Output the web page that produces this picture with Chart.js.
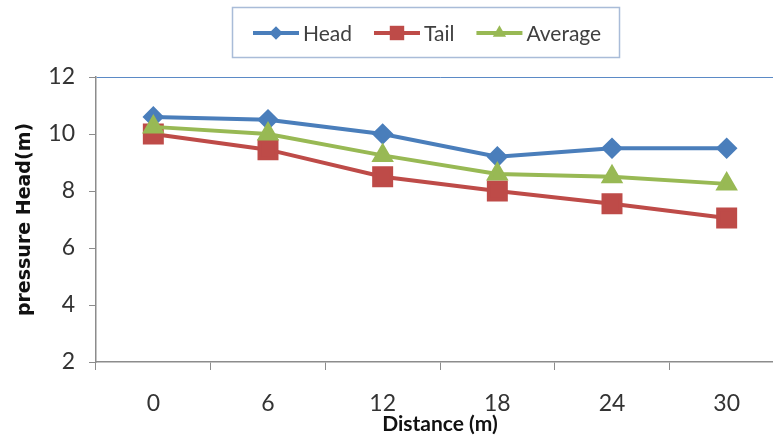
<!DOCTYPE html>
<html>
<head>
<meta charset="utf-8">
<script src="https://cdn.jsdelivr.net/npm/chart.js@4/dist/chart.umd.min.js"></script>
<style>
  html, body { margin: 0; padding: 0; background: #fff; overflow: hidden; }
  #wrap { width: 773px; height: 438px; overflow: hidden; }
</style>
</head>
<body>
<div id="wrap"><canvas id="canvas" width="800" height="438"></canvas></div>
<script>
var distance = ['0', '6', '12', '18', '24', '30'];
var head = [10.6, 10.5, 10.0, 9.2, 9.5, 9.5];
var tail = [10.0, 9.45, 8.5, 8.0, 7.55, 7.05];
var average = [10.25, 10.0, 9.25, 8.6, 8.5, 8.25];

var blue = '#4a7ebb', red = '#be4b48', green = '#98b954';
var axisGray = '#8c8c8c';
var face = "Lato, 'DejaVu Sans Condensed', sans-serif";

// draws the little marker used in the boxed legend
function marker(ctx, style, x, y, r, color) {
  ctx.fillStyle = color;
  ctx.beginPath();
  if (style === 'rectRot') {
    ctx.moveTo(x, y - r); ctx.lineTo(x + r, y); ctx.lineTo(x, y + r); ctx.lineTo(x - r, y);
  } else if (style === 'rect') {
    var s = r * Math.SQRT1_2;
    ctx.rect(x - s, y - s, 2 * s, 2 * s);
  } else {
    ctx.moveTo(x, y - r); ctx.lineTo(x + r * 0.866, y + r * 0.5); ctx.lineTo(x - r * 0.866, y + r * 0.5);
  }
  ctx.closePath();
  ctx.fill();
}

var boxLegend = {
  id: 'boxLegend',
  afterDraw: function(chart) {
    var ctx = chart.ctx;
    ctx.save();
    ctx.strokeStyle = '#a9bcd8';
    ctx.lineWidth = 1.5;
    ctx.strokeRect(232.5, 7.5, 387, 50);
    ctx.font = '21px ' + face;
    ctx.textBaseline = 'middle';
    var x = 253, y = 33;
    chart.data.datasets.forEach(function(ds) {
      ctx.strokeStyle = ds.borderColor;
      ctx.lineWidth = 4;
      ctx.beginPath(); ctx.moveTo(x, y); ctx.lineTo(x + 46, y); ctx.stroke();
      marker(ctx, ds.pointStyle, x + 23, y, ds.pointRadius * 0.85, ds.borderColor);
      ctx.fillStyle = '#404040';
      ctx.fillText(ds.label, x + 50, y + 1);
      x += 50 + ctx.measureText(ds.label).width + 22;
    });
    ctx.restore();
  }
};

var ctx = document.getElementById('canvas').getContext('2d');
new Chart(ctx, {
  type: 'line',
  data: {
    labels: distance,
    datasets: [
      { label: 'Head', data: head, borderColor: blue, backgroundColor: blue, pointStyle: 'rectRot', pointRadius: 8, borderWidth: 4, order: 3 },
      { label: 'Tail', data: tail, borderColor: red, backgroundColor: red, pointStyle: 'rect', pointRadius: 12, borderWidth: 4, order: 2 },
      { label: 'Average', data: average, borderColor: green, backgroundColor: green, pointStyle: 'triangle', pointRadius: 9, borderWidth: 4, order: 1 }
    ]
  },
  options: {
    responsive: false,
    animation: false,
    layout: { padding: { top: 77, left: 10, right: 11, bottom: 0 } },
    plugins: { legend: { display: false }, tooltip: { enabled: false } },
    elements: { line: { tension: 0 }, point: { borderWidth: 0, hoverRadius: 0 } },
    scales: {
      x: {
        offset: true,
        grid: { offset: true, drawOnChartArea: false, tickLength: 8, tickColor: axisGray },
        border: { color: axisGray, width: 1.5 },
        ticks: { font: { family: face, size: 23 }, color: '#333', padding: 20, maxRotation: 0 },
        title: { display: true, text: 'Distance (m)', font: { family: face, size: 21, weight: 'bold' }, color: '#111', padding: { top: 0, bottom: 1 } },
        afterFit: function(scale) { scale.height = 76; }
      },
      y: {
        min: 2, max: 12,
        ticks: { stepSize: 2, font: { family: face, size: 23 }, color: '#333', padding: 14 },
        grid: {
          tickLength: 7, tickColor: axisGray,
          color: function(c) { return c.tick && c.tick.value === 12 ? '#5b8ac6' : 'rgba(0,0,0,0)'; }
        },
        border: { color: axisGray, width: 1.5 },
        title: { display: true, text: 'pressure Head(m)', font: { family: "'DejaVu Sans', sans-serif", size: 19, weight: 'bold' }, color: '#111', padding: { top: 4, bottom: 0 } },
        afterFit: function(scale) { scale.width = 86; }
      }
    }
  },
  plugins: [boxLegend]
});
</script>
</body>
</html>
